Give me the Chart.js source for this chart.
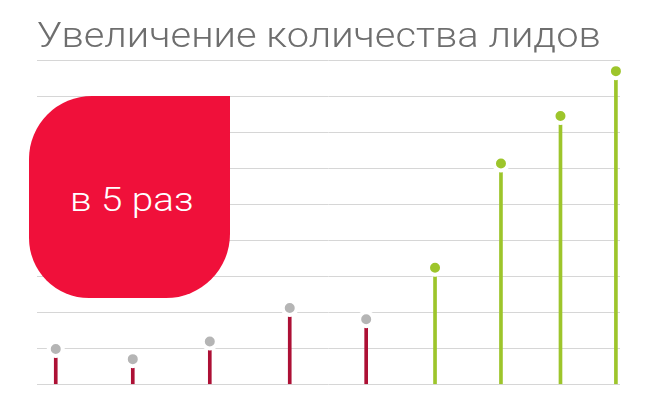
<!DOCTYPE html>
<html lang="ru">
<head>
<meta charset="utf-8">
<script src="https://cdn.jsdelivr.net/npm/chart.js@4/dist/chart.umd.min.js"></script>
<style>
  html, body { margin: 0; padding: 0; background: #fff; }
  #wrap { position: relative; width: 656px; height: 411px; }
  #title {
    position: absolute; left: 37px; top: 15px;
    font-family: "Roboto Light", Roboto, sans-serif; font-weight: 200; font-size: 35px;
    color: #6e6e6e; white-space: nowrap;
    transform: scaleX(1.14); transform-origin: left top;
  }
  #badge {
    position: absolute; left: 29px; top: 96px; width: 201px; height: 202px;
    background: #f0103a; border-radius: 63px 0 64px 60px;
    display: flex; align-items: center; justify-content: center;
    box-sizing: border-box; padding-left: 5px; padding-top: 4px;
  }
  #badge span {
    font-family: "Roboto Light", Roboto, sans-serif; font-weight: 200; font-size: 33px;
    color: #fff; display: inline-block; transform: scaleX(1.17);
  }
</style>
</head>
<body>
<div id="wrap">
  <canvas id="myChart" width="656" height="411"></canvas>
  <div id="title">Увеличение количества лидов</div>
  <div id="badge"><span>в 5 раз</span></div>
</div>
<script>
// Data: position of each period along the axis and number of leads
const periods = [3.3, 16.5, 29.7, 43.4, 56.5, 68.3, 79.6, 89.8, 99.3];
const leads = [0.98, 0.70, 1.19, 2.12, 1.81, 3.24, 6.14, 7.46, 8.71];
const afterStart = [false, false, false, false, false, true, true, true, true];

document.addEventListener('DOMContentLoaded', function() {
    const red = '#ad1035';
    const green = '#9dc52b';
    const gray = '#b5b5b5';

    const points = periods.map((p, i) => ({ x: p, y: leads[i] }));

    const ctx = document.getElementById('myChart').getContext('2d');
    new Chart(ctx, {
        type: 'bar',
        data: {
            datasets: [{
                type: 'scatter',
                data: points,
                pointRadius: 7,
                pointHoverRadius: 7,
                pointBorderWidth: 4,
                pointBorderColor: '#fff',
                pointBackgroundColor: afterStart.map(g => g ? green : gray),
                clip: false,
                order: 0
            }, {
                type: 'bar',
                data: points,
                barThickness: 3,
                backgroundColor: afterStart.map(g => g ? green : red),
                order: 1
            }]
        },
        options: {
            responsive: false,
            animation: false,
            layout: {
                padding: { left: 36.5, right: 36, top: 60.7, bottom: 26.7 }
            },
            plugins: {
                legend: { display: false },
                tooltip: { enabled: false }
            },
            scales: {
                x: {
                    type: 'linear',
                    min: 0,
                    max: 100,
                    offset: false,
                    display: false
                },
                y: {
                    min: 0,
                    max: 9,
                    ticks: { display: false, stepSize: 1 },
                    grid: { color: '#d6d6d6', lineWidth: 1, drawTicks: false },
                    border: { display: false }
                }
            }
        }
    });
});
</script>
</body>
</html>
